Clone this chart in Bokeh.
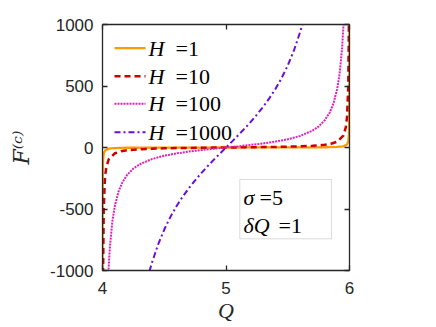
from bokeh.plotting import figure
from bokeh.models import (Range1d, LinearAxis, FixedTicker, Label, BoxAnnotation,
                          Arrow, CustomJSTickFormatter)
from bokeh.embed import file_html
from bokeh.resources import INLINE

# ---- data ----
h_values = ["1", "10", "100", "1000"]

q_h1 = [4.0004, 4.0005, 4.001, 4.002, 4.005, 4.01, 4.02, 4.05, 4.1, 4.2, 4.4, 4.6, 4.8,
        5.0, 5.2, 5.4, 5.6, 5.8, 5.9, 5.95, 5.98, 5.99, 5.995, 5.998, 5.999, 5.9995, 5.9996]
f_h1 = [-1250, -1000, -500, -250, -100, -50, -25, -9.7, -4.7, -2.2, -0.94, -0.48, -0.21,
        0, 0.21, 0.48, 0.94, 2.2, 4.7, 9.7, 25, 50, 100, 250, 500, 1000, 1250]

q_h10 = [4.0045, 4.005, 4.01, 4.02, 4.03, 4.05, 4.1, 4.15, 4.2, 4.3, 4.4, 4.5, 4.6, 4.7, 4.8, 4.9,
         5.0, 5.1, 5.2, 5.3, 5.4, 5.5, 5.6, 5.7, 5.8, 5.85, 5.9, 5.95, 5.97, 5.98, 5.99, 5.995, 5.9955]
f_h10 = [-1109, -997, -497, -247, -164, -97, -47, -31, -22, -13.7, -9.4, -6.7, -4.8, -3.3, -2.1, -1.0,
         0, 1.0, 2.1, 3.3, 4.8, 6.7, 9.4, 13.7, 22, 31, 47, 97, 164, 247, 497, 997, 1109]

q_h100 = [4.048, 4.05, 4.06, 4.08, 4.1, 4.13, 4.16, 4.2, 4.25, 4.3, 4.4, 4.5, 4.6, 4.7, 4.8, 4.9,
          5.0, 5.1, 5.2, 5.3, 5.4, 5.5, 5.6, 5.7, 5.75, 5.8, 5.84, 5.87, 5.9, 5.92, 5.94, 5.95, 5.952]
f_h100 = [-1016, -974, -808, -599, -474, -358, -285, -222, -171, -137, -94, -67, -48, -33, -21, -10,
          0, 10, 21, 33, 48, 67, 94, 137, 171, 222, 285, 358, 474, 599, 808, 974, 1016]

q_h1000 = [4.38, 4.4, 4.45, 4.5, 4.55, 4.6, 4.65, 4.7, 4.75, 4.8, 4.85, 4.9, 4.95,
           5.0, 5.05, 5.1, 5.15, 5.2, 5.25, 5.3, 5.35, 5.4, 5.45, 5.5, 5.55, 5.6, 5.62]
f_h1000 = [-1007, -938, -789, -667, -564, -476, -399, -330, -267, -208, -153, -101, -50,
           0, 50, 101, 153, 208, 267, 330, 399, 476, 564, 667, 789, 938, 1007]

x_ticks = [4, 5, 6]
y_ticks = [-1000, -500, 0, 500, 1000]
sigma_text = "=5"
dq_text = "=1"

# ---- styling ----
AX = "#262626"
SERIF = "Liberation Serif"
SANS = "Liberation Sans"
series = [
    (q_h1, f_h1, "#FF9900", 2.3, "solid"),
    (q_h10, f_h10, "#CC0000", 2.5, "6 4"),
    (q_h100, f_h100, "#E020B8", 2.0, "2 1"),
    (q_h1000, f_h1000, "#6A0DDB", 2.0, "6 3 2 3"),
]

p = figure(width=436, height=327, output_backend="svg", toolbar_location=None,
           x_range=Range1d(4, 6), y_range=Range1d(-1000, 1000),
           min_border_left=102, min_border_right=87, min_border_top=24, min_border_bottom=57,
           x_axis_type=None, y_axis_type=None)
p.grid.visible = False
p.outline_line_color = None
p.background_fill_color = "white"
p.border_fill_color = "white"

def style_axis(ax, labels=True):
    ax.axis_line_color = AX
    ax.axis_line_width = 1.3
    ax.major_tick_line_color = AX
    ax.major_tick_line_width = 1.3
    ax.major_tick_in = 5
    ax.major_tick_out = 0
    ax.minor_tick_line_color = None
    ax.major_label_text_color = AX
    ax.major_label_text_font = SANS
    ax.major_label_text_font_size = "17px"
    if labels:
        ax.formatter = CustomJSTickFormatter(code="return tick.toString()")
    else:
        ax.formatter = CustomJSTickFormatter(code="return ''")
        ax.major_label_standoff = 0

xb = LinearAxis(ticker=FixedTicker(ticks=x_ticks))
style_axis(xb)
xb.major_label_standoff = 11
xb.axis_label = "Q"
xb.axis_label_text_font = SERIF
xb.axis_label_text_font_style = "italic"
xb.axis_label_text_font_size = "22px"
xb.axis_label_text_color = AX
xb.axis_label_standoff = 1
p.add_layout(xb, "below")

yl = LinearAxis(ticker=FixedTicker(ticks=y_ticks))
style_axis(yl)
yl.major_label_standoff = 9
yl.axis_label = "F⁽ᶜ⁾"
yl.axis_label_text_font = "DejaVu Serif"
yl.axis_label_text_font_style = "italic"
yl.axis_label_text_font_size = "22px"
yl.axis_label_text_color = AX
yl.axis_label_standoff = 13
p.add_layout(yl, "left")

xt = LinearAxis(ticker=FixedTicker(ticks=x_ticks))
style_axis(xt, labels=False)
p.add_layout(xt, "above")

yr = LinearAxis(ticker=FixedTicker(ticks=y_ticks))
style_axis(yr, labels=False)
p.add_layout(yr, "right")

for q, f, color, lw, dash in series:
    p.line(q, f, line_color=color, line_width=lw, line_dash=dash)

# ---- legend (manual, screen units relative to frame) ----
row_y = [222.3, 194.3, 166.7, 138.3]
for (q, f, color, lw, dash), hv, ry in zip(series, h_values, row_y):
    p.add_layout(Arrow(end=None, x_start=12, y_start=ry, x_end=43, y_end=ry,
                       start_units="screen", end_units="screen",
                       line_color=color, line_width=lw, line_dash=dash))
    p.add_layout(Label(x=46, y=ry, x_units="screen", y_units="screen", text="H",
                       text_font=SERIF, text_font_style="italic", text_font_size="22px",
                       text_color="black", text_baseline="middle"))
    p.add_layout(Label(x=73, y=ry, x_units="screen", y_units="screen", text="=" + hv,
                       text_font=SERIF, text_font_size="22px",
                       text_color="black", text_baseline="middle"))

# ---- parameter box ----
p.add_layout(BoxAnnotation(left=137.3, right=229, bottom=31.7, top=91,
                           left_units="screen", right_units="screen",
                           top_units="screen", bottom_units="screen",
                           fill_color="white", fill_alpha=1.0,
                           line_color="#8c8c8c", line_width=1))
for txt, style, x, y in [("σ", "italic", 141, 73.3), (sigma_text, "normal", 157, 73.3),
                         ("δQ", "italic", 141, 45), (dq_text, "normal", 176, 45)]:
    p.add_layout(Label(x=x, y=y, x_units="screen", y_units="screen", text=txt,
                       text_font=SERIF, text_font_style=style, text_font_size="22px",
                       text_color="black", text_baseline="alphabetic"))

open("out.html", "w").write(file_html(p, INLINE))
